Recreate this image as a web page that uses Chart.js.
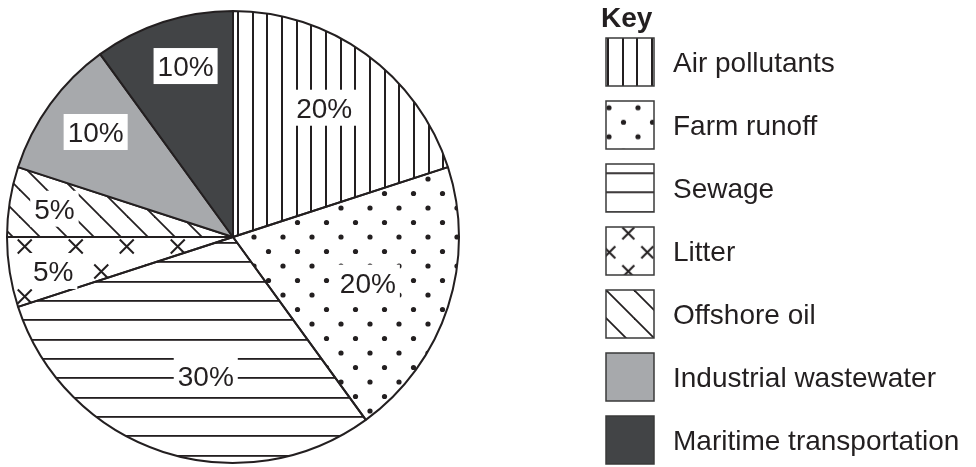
<!DOCTYPE html>
<html>
<head>
<meta charset="utf-8">
<script src="https://cdn.jsdelivr.net/npm/chart.js@4.4.0/dist/chart.umd.min.js"></script>
<style>
  html, body { margin: 0; padding: 0; background: #fff; }
  #wrap { position: relative; width: 976px; height: 467px; }
</style>
</head>
<body>
<div id="wrap"><canvas id="pollution_chart"></canvas></div>
<script>
// data
const sources = ['Air pollutants', 'Farm runoff', 'Sewage', 'Litter', 'Offshore oil', 'Industrial wastewater', 'Maritime transportation'];
const shares = [20, 20, 30, 5, 5, 10, 10];
const keyTitle = 'Key';

// how each slice is filled (pattern name or flat colour)
const fills = ['vertical', 'dots', 'horizontal', 'crosses', 'diagonal', '#a7a9ac', '#424446'];
// where the % labels sit: share of the radius, and a small angle nudge (degrees)
const labelRadius = [0.70, 0.63, 0.626, 0.81, 0.80, 0.765, 0.785];
const labelNudge = [-0.8, 0.7, -6.9, -1.7, 0, 1.4, 2.5];

const ink = '#231f20';
const font = '"Liberation Sans", Arial, sans-serif';

// build one tile of a pattern
function make_tile(kind, o) {
    const c = document.createElement('canvas');
    let g;
    if (kind === 'vertical') {
        c.width = 44; c.height = 4;
        g = c.getContext('2d');
        g.fillStyle = ink;
        [0, 15, 29].forEach(x => g.fillRect(x, 0, 2, 4));
    } else if (kind === 'horizontal') {
        c.width = 4; c.height = 58;
        g = c.getContext('2d');
        g.fillStyle = ink;
        [0, 19, 39].forEach(y => g.fillRect(0, y, 4, 1.8));
    } else if (kind === 'dots') {
        c.width = 29; c.height = 29;
        g = c.getContext('2d');
        g.fillStyle = ink;
        [[7, 7], [21.5, 21.5]].forEach(p => {
            g.beginPath();
            g.arc(p[0], p[1], 2.6, 0, Math.PI * 2);
            g.fill();
        });
    } else if (kind === 'crosses') {
        const s = o.scale || 1;
        const w = Math.round(51 * s), h = Math.round(50 * s);
        c.width = w; c.height = h;
        g = c.getContext('2d');
        g.strokeStyle = ink;
        g.lineWidth = 2;
        const a = o.arm || 7;
        [[w / 4, h / 4], [w * 3 / 4, h * 3 / 4]].forEach(p => {
            g.beginPath();
            g.moveTo(p[0] - a, p[1] - a); g.lineTo(p[0] + a, p[1] + a);
            g.moveTo(p[0] + a, p[1] - a); g.lineTo(p[0] - a, p[1] + a);
            g.stroke();
        });
    } else if (kind === 'diagonal') {
        const s = o.size || 27;
        c.width = s; c.height = s;
        g = c.getContext('2d');
        g.strokeStyle = ink;
        g.lineWidth = 1.8;
        [-1, 0, 1].forEach(k => {
            g.beginPath();
            g.moveTo(k * s - 3, -3);
            g.lineTo(k * s + s + 3, s + 3);
            g.stroke();
        });
    }
    return c;
}

function make_fill(ctx, kind, tx, ty, o) {
    if (kind.charAt(0) === '#') return kind;
    const p = ctx.createPattern(make_tile(kind, o || {}), 'repeat');
    p.setTransform(new DOMMatrix([1, 0, 0, 1, tx, ty]));
    return p;
}

const ctx = document.querySelector('#pollution_chart').getContext('2d');

// phase of each pattern inside the pie
const pieFills = [
    make_fill(ctx, fills[0], 237, 0),
    make_fill(ctx, fills[1], 15, 27),
    make_fill(ctx, fills[2], 0, 10),
    make_fill(ctx, fills[3], 12, 34, {scale: 1, arm: 7}),
    make_fill(ctx, fills[4], 19, 0, {size: 27}),
    fills[5],
    fills[6]
];

// % labels on white boxes
const slice_labels = {
    id: 'slice_labels',
    afterDatasetsDraw(chart) {
        const c = chart.ctx;
        const arcs = chart.getDatasetMeta(0).data;
        c.save();
        c.font = '28px ' + font;
        c.textAlign = 'center';
        c.textBaseline = 'alphabetic';
        arcs.forEach((arc, i) => {
            const p = arc.getProps(['x', 'y', 'startAngle', 'endAngle', 'outerRadius'], true);
            const a = (p.startAngle + p.endAngle) / 2 + labelNudge[i] * Math.PI / 180;
            const r = p.outerRadius * labelRadius[i];
            const px = p.x + r * Math.cos(a);
            const py = p.y + r * Math.sin(a);
            const txt = shares[i] + '%';
            const w = c.measureText(txt).width + 8;
            c.fillStyle = '#fff';
            c.fillRect(px - w / 2, py - 18, w, 36);
            c.fillStyle = ink;
            c.fillText(txt, px, py + 10);
        });
        c.restore();
    }
};

// the key on the right
const key_box = {
    id: 'key_box',
    afterDraw(chart) {
        const c = chart.ctx;
        const bx = 606, size = 48, step = 63, top = 38;
        c.save();
        c.fillStyle = ink;
        c.font = 'bold 28px ' + font;
        c.textBaseline = 'alphabetic';
        c.fillText(keyTitle, 601, 27);
        c.font = '28px ' + font;
        sources.forEach((name, i) => {
            const by = top + step * i;
            let f;
            if (i === 0) f = make_fill(c, fills[0], bx + 1, by);
            else if (i === 1) f = make_fill(c, fills[1], bx - 4, by - 0.3);
            else if (i === 2) f = make_fill(c, fills[2], 0, by + 8.3);
            else if (i === 3) f = make_fill(c, fills[3], bx + 12.8, by - 3.2, {scale: 0.75, arm: 6});
            else if (i === 4) f = make_fill(c, fills[4], bx, by, {size: 28});
            else f = fills[i];
            c.fillStyle = '#fff';
            c.fillRect(bx, by, size, size);
            c.save();
            c.beginPath();
            c.rect(bx, by, size, size);
            c.clip();
            c.fillStyle = f;
            c.fillRect(bx, by, size, size);
            c.restore();
            c.strokeStyle = '#3a3a3a';
            c.lineWidth = 1.5;
            c.strokeRect(bx, by, size, size);
            c.fillStyle = ink;
            c.fillText(name, 673, by + size / 2 + 10);
        });
        c.restore();
    }
};

let chart_output = new Chart(ctx, {
    type: 'pie',
    data: {
        labels: sources,
        datasets: [
            {
                data: shares,
                backgroundColor: pieFills,
                borderColor: ink,
                borderWidth: 2,
                radius: 226
            }
        ]
    },
    options: {
        responsive: true,
        maintainAspectRatio: false,
        animation: false,
        events: [],
        layout: { padding: { left: 0, right: 510, top: 7, bottom: 0 } },
        plugins: {
            legend: { display: false },
            tooltip: { enabled: false }
        }
    },
    plugins: [slice_labels, key_box]
});
</script>
</body>
</html>
